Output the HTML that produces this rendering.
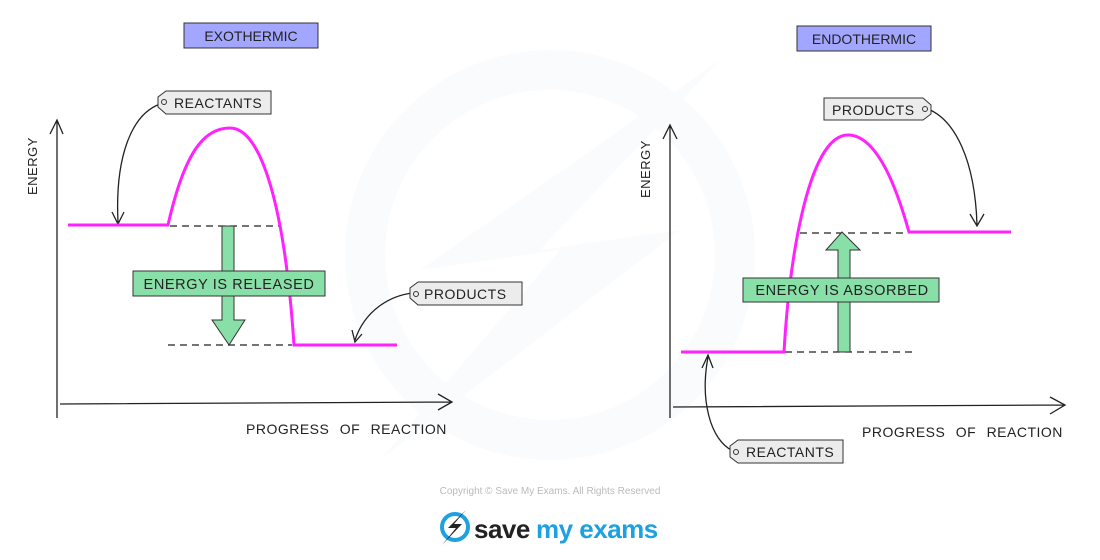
<!DOCTYPE html>
<html><head><style>body{margin:0;background:#fff}svg{display:block}text{font-family:"Liberation Sans",sans-serif}</style></head><body>
<svg width="1100" height="560" viewBox="0 0 1100 560" xmlns="http://www.w3.org/2000/svg">
<g opacity="0.35">
<circle cx="550" cy="255" r="185" fill="none" stroke="#f0f5fa" stroke-width="40"/>
<path d="M720 60 L420 270 L560 250 L380 460 L680 230 L540 250 Z" fill="#f3f6fa"/>
</g>
<g stroke="#222" stroke-width="1.3" fill="none">
<path d="M57 418 L57 120 M50 134 L57 120 L63 134"/>
<path d="M60 404 L452 402 M438 394 L452 402 L438 410"/>
<path d="M670 418 L670 125 M663 139 L670 125 L677 139"/>
<path d="M673 407 L1065 405 M1050 397 L1065 405 L1050 414"/>
<path d="M170 226 L280 226 M168 345 L292 345 M785 352 L912 352 M800 233 L908 233" stroke-dasharray="7,5"/>
<path d="M160 104 C130 115 115 160 118 222 M112 212 L118 224 L124 212"/>
<path d="M412 293 C390 296 365 310 355 340 M352 330 L355 342 L362 334"/>
<path d="M928 109 C955 120 975 160 977 225 M970 214 L977 226 L984 214"/>
<path d="M733 451 C710 440 700 400 708 357 M702 368 L708 355 L713 368"/>
</g>
<g stroke="#ff22ff" stroke-width="3" fill="none">
<path d="M68 225 L168 225 C185 150 205 128 230 128 C262 128 285 210 294 345 L397 345"/>
<path d="M681 352 L784 352 C790 250 810 135 848 135 C880 135 900 200 909 232 L1011 232"/>
</g>
<g fill="#88e0a8" stroke="#333" stroke-width="1">
<path d="M222 226 L234 226 L234 320 L245 320 L229 345 L212 320 L222 320 Z"/>
<path d="M838 352 L850 352 L850 250 L860 250 L842 232 L826 250 L838 250 Z"/>
<rect x="133" y="271" width="192" height="25"/>
<rect x="743" y="278" width="196" height="24"/>
</g>
<g font-size="14.5" fill="#222">
<text x="229" y="289" text-anchor="middle" letter-spacing="0.6">ENERGY  IS  RELEASED</text>
<text x="842" y="295" text-anchor="middle" letter-spacing="0.6">ENERGY  IS  ABSORBED</text>
</g>
<g fill="#a3a6ff" stroke="#333" stroke-width="1">
<rect x="184" y="23" width="134" height="25"/>
<rect x="797" y="26" width="134" height="25"/>
</g>
<g font-size="14" fill="#222" text-anchor="middle">
<text x="251" y="41">EXOTHERMIC</text>
<text x="864" y="44">ENDOTHERMIC</text>
</g>
<g fill="#ececec" stroke="#333" stroke-width="1">
<path d="M166 91 L271 91 L271 114 L166 114 L158 107 L158 97 Z"/>
<path d="M418 282 L522 282 L522 305 L418 305 L410 298 L410 288 Z"/>
<path d="M824 98 L923 98 L931 105 L931 114 L923 120 L824 120 Z"/>
<path d="M738 440 L843 440 L843 463 L738 463 L730 457 L730 446 Z"/>
</g>
<g fill="none" stroke="#333" stroke-width="1"><circle cx="164" cy="102" r="2.5"/><circle cx="416" cy="294" r="2.5"/><circle cx="925" cy="109" r="2.5"/><circle cx="736" cy="452" r="2.5"/></g>
<g font-size="14" fill="#222" letter-spacing="0.5">
<text x="174" y="108">REACTANTS</text>
<text x="424" y="299">PRODUCTS</text>
<text x="832" y="115">PRODUCTS</text>
<text x="746" y="457">REACTANTS</text>
<text x="246" y="434" word-spacing="6">PROGRESS OF REACTION</text>
<text x="862" y="437" word-spacing="6">PROGRESS OF REACTION</text>
<text transform="translate(37,195) rotate(-90)" font-size="13">ENERGY</text>
<text transform="translate(650,198) rotate(-90)" font-size="13">ENERGY</text>
</g>
<text x="550" y="494" font-size="10" fill="#bbb" text-anchor="middle">Copyright © Save My Exams. All Rights Reserved</text>
<circle cx="455" cy="527" r="13" fill="none" stroke="#1da1e0" stroke-width="4"/>
<path d="M466 510 L448 528 L456 528 L442 545 L462 524 L454 524 Z" fill="#222"/>
<text x="474" y="538" font-size="26" font-weight="bold" fill="#222" letter-spacing="-0.5">save</text>
<text x="536" y="538" font-size="26" font-weight="bold" fill="#1da1e0" letter-spacing="-0.5">my exams</text>
</svg>
</body></html>
